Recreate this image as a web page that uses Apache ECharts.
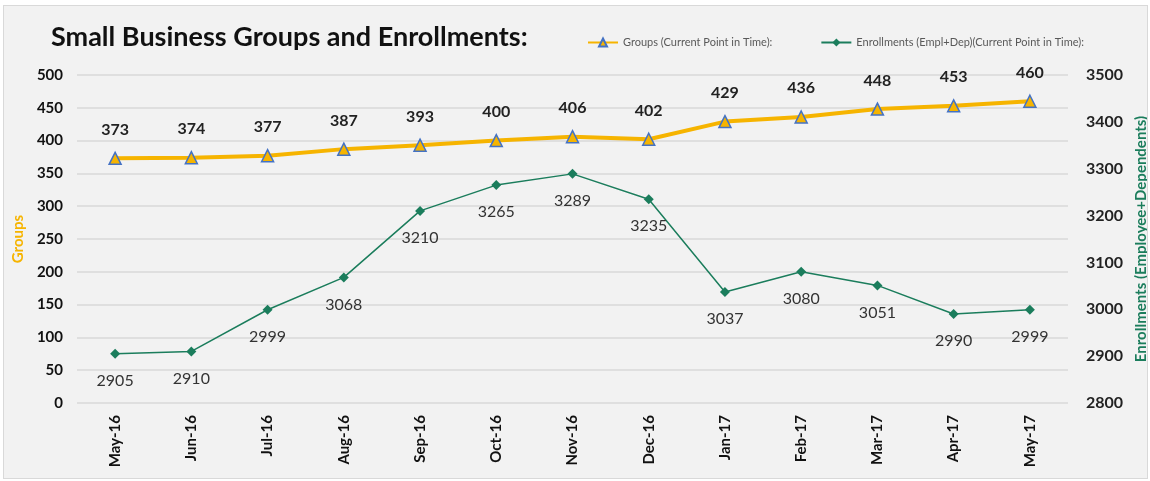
<!DOCTYPE html>
<html>
<head>
<meta charset="utf-8">
<script src="https://cdn.jsdelivr.net/npm/echarts@6/dist/echarts.min.js"></script>
<style>
  html, body { margin: 0; padding: 0; background: #ffffff; }
  #chart {
    position: absolute; left: 3px; top: 5px;
    width: 1145px; height: 474px;
    background: #f2f2f2; border: 1px solid #d9d9d9; box-sizing: border-box;
  }
</style>
</head>
<body>
<div id="chart"></div>
<script>
// data
const months = ['May-16', 'Jun-16', 'Jul-16', 'Aug-16', 'Sep-16', 'Oct-16', 'Nov-16',
  'Dec-16', 'Jan-17', 'Feb-17', 'Mar-17', 'Apr-17', 'May-17']
const groups = [373, 374, 377, 387, 393, 400, 406, 402, 429, 436, 448, 453, 460]
const enrollments = [2905, 2910, 2999, 3068, 3210, 3265, 3289, 3235, 3037, 3080, 3051, 2990, 2999]
const groupsName = 'Groups (Current Point in Time):'
const enrollName = 'Enrollments (Empl+Dep)(Current Point in Time):'

const ORANGE = '#f6b400'
const GREEN = '#1b7d5c'
const FONT = 'Lato'

const chart = echarts.init(document.getElementById('chart'))

chart.setOption({
  backgroundColor: '#f2f2f2',
  animation: false,
  title: {
    text: 'Small Business Groups and Enrollments:',
    left: 42, top: 13,
    textStyle: { fontFamily: FONT, fontSize: 27, fontWeight: 'bold', color: '#111' }
  },
  legend: {
    top: 26, left: 578,
    itemGap: 48,
    itemWidth: 30, itemHeight: 10,
    textStyle: { fontFamily: FONT, fontSize: 11, color: '#595959' },
    data: [groupsName, enrollName]
  },
  grid: { left: 73, right: 79, top: 69, bottom: 75, outerBoundsMode: 'none' },
  xAxis: {
    type: 'category',
    data: months,
    axisLine: { show: false },
    axisTick: { show: false },
    axisLabel: {
      rotate: 90, margin: 12,
      fontFamily: FONT, fontSize: 15, fontWeight: 'bold', color: '#111'
    }
  },
  yAxis: [{
    type: 'value',
    min: 0, max: 500, interval: 50,
    name: 'Groups',
    nameLocation: 'middle',
    nameGap: 49,
    nameTextStyle: { fontFamily: FONT, fontSize: 15, fontWeight: 'bold', color: ORANGE },
    axisLabel: { fontFamily: FONT, fontSize: 15, fontWeight: 'bold', color: '#111', margin: 14 },
    splitLine: { lineStyle: { color: '#d9d9d9', width: 1.5 } }
  }, {
    type: 'value',
    min: 2800, max: 3500, interval: 100,
    name: 'Enrollments (Employee+Dependents)',
    nameLocation: 'middle',
    nameGap: 60,
    nameTextStyle: { fontFamily: FONT, fontSize: 15, fontWeight: 'bold', color: GREEN },
    axisLabel: {
      fontFamily: FONT, fontSize: 16, fontWeight: 'bold', color: '#222', margin: 18,
      formatter: v => String(v)
    },
    splitLine: { show: false }
  }],
  series: [{
    name: groupsName,
    type: 'line',
    yAxisIndex: 0,
    data: groups,
    symbol: 'triangle',
    symbolSize: 12,
    lineStyle: { color: ORANGE, width: 4 },
    itemStyle: { color: ORANGE, borderColor: '#4472c4', borderWidth: 1.5 },
    label: {
      show: true, position: 'top', distance: 14,
      fontFamily: FONT, fontSize: 16, fontWeight: 'bold', color: '#222'
    },
    z: 3
  }, {
    name: enrollName,
    type: 'line',
    yAxisIndex: 1,
    data: enrollments,
    symbol: 'diamond',
    symbolSize: 10,
    lineStyle: { color: GREEN, width: 1.5 },
    itemStyle: { color: GREEN },
    label: {
      show: true, position: 'bottom', distance: 14,
      fontFamily: FONT, fontSize: 16, color: '#333'
    },
    z: 2
  }]
})
</script>
</body>
</html>
